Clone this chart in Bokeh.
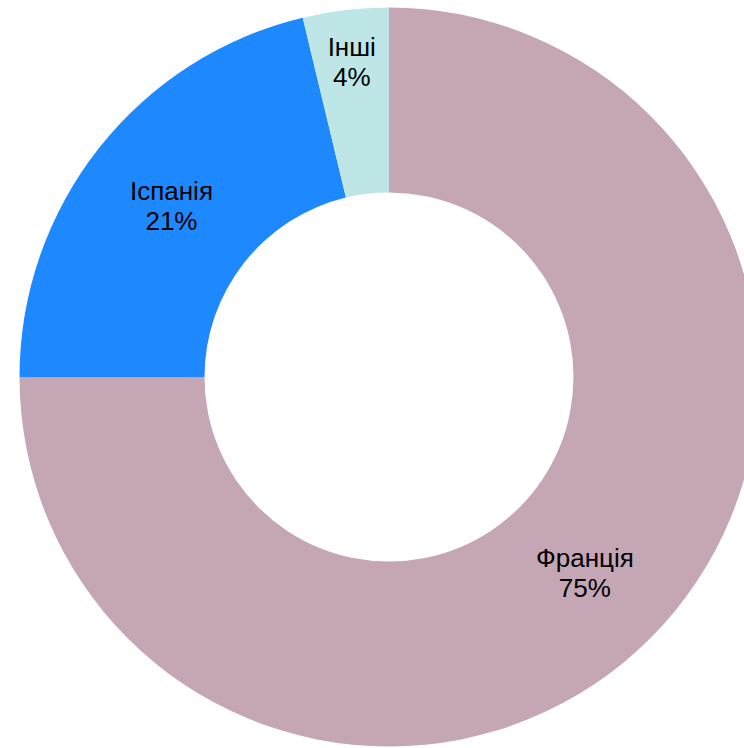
import math
from bokeh.plotting import figure
from bokeh.models import Range1d, ColumnDataSource
from bokeh.core.properties import value
from bokeh.embed import file_html
from bokeh.resources import INLINE

# Data
countries = ["Франція", "Іспанія", "Інші"]
shares = [75.0, 21.25, 3.75]
colors = ["#C4A6B4", "#1E88FF", "#BEE6E6"]

# Layout (pixels)
W, H = 744, 748
CX, CY = 388.5, 376.5          # centre, measured from figure top-left
R_OUT, R_IN = 369.5, 184.5
label_radius = [277, 277, 317]

total = sum(shares)
starts, ends, lx, ly, labels = [], [], [], [], []
acc = 0.0
for i, v in enumerate(shares):
    a0 = math.pi / 2 - 2 * math.pi * acc / total
    a1 = math.pi / 2 - 2 * math.pi * (acc + v) / total
    starts.append(a0)
    ends.append(a1)
    mid = (a0 + a1) / 2
    lx.append(label_radius[i] * math.cos(mid))
    ly.append(label_radius[i] * math.sin(mid))
    labels.append(f"{countries[i]}\n{round(v)}%")
    acc += v

src = ColumnDataSource(dict(start=starts, end=ends, color=colors))
lsrc = ColumnDataSource(dict(x=lx, y=ly, text=labels))

p = figure(width=W, height=H, output_backend="svg", toolbar_location=None,
           x_range=Range1d(-CX, W - CX), y_range=Range1d(-(H - CY), CY),
           min_border=0)
p.axis.visible = False
p.grid.visible = False
p.outline_line_color = None
p.background_fill_color = "white"
p.border_fill_color = "white"

p.annular_wedge(x=0, y=0, inner_radius=R_IN, outer_radius=R_OUT,
                start_angle="start", end_angle="end", direction="clock",
                fill_color="color", line_color=None, source=src)

p.text(x="x", y="y", text="text", source=lsrc, text_align="center",
       text_baseline="middle", text_font=value("Liberation Sans"),
       text_font_size="26px", text_color="black", text_line_height=1.0)

open("out.html", "w").write(file_html(p, INLINE))
